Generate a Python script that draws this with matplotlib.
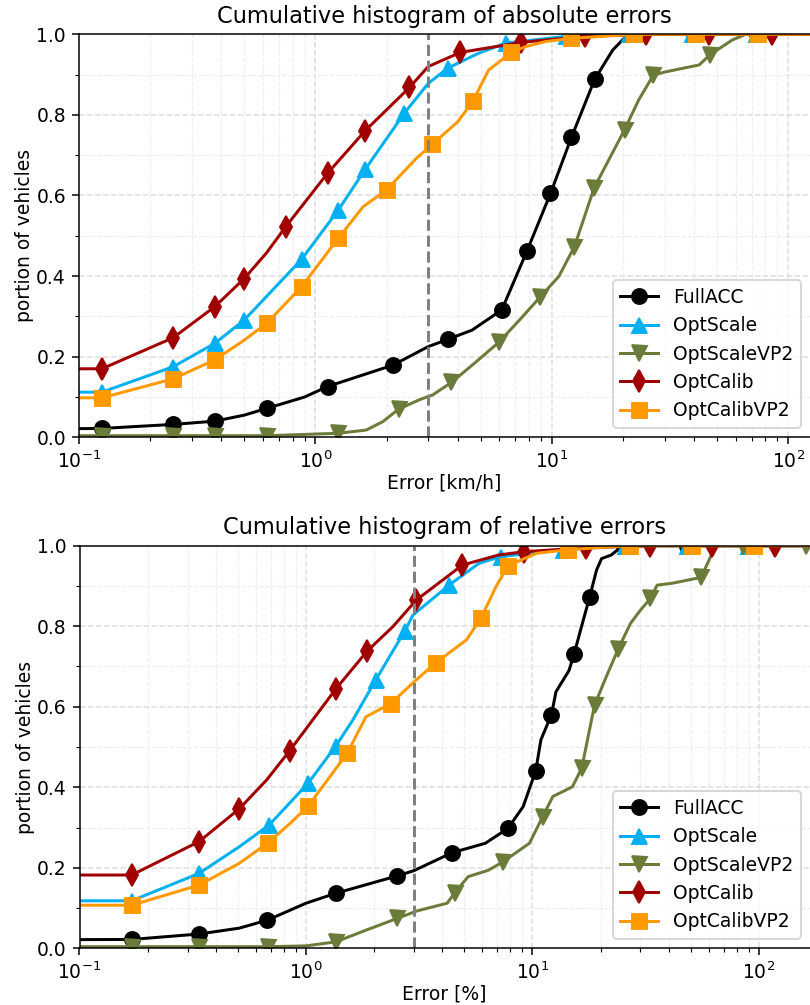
import numpy as np
import matplotlib
matplotlib.use("Agg")
import matplotlib.pyplot as plt
from matplotlib.ticker import MultipleLocator

names = ["FullACC", "OptScale", "OptScaleVP2", "OptCalib", "OptCalibVP2"]
colors = ["black", "#00b0f0", "#6b7b3a", "#a00000", "#ff9900"]
markers = ["o", "^", "v", "d", "s"]

# ---- absolute errors [km/h] ----
abs_full_x = [0.05, 0.125, 0.25, 0.375, 0.5, 0.625, 0.9, 1.125, 2.125, 3.0, 3.63, 4.6, 6.14, 7.86, 9.87, 12.1, 15.2, 18.1, 20.6, 22.3, 40, 74, 300]
abs_full_y = [0.02, 0.022, 0.032, 0.040, 0.055, 0.072, 0.10, 0.126, 0.179, 0.225, 0.243, 0.266, 0.316, 0.463, 0.605, 0.744, 0.889, 0.961, 0.995, 1.0, 1.0, 1.0, 1.0]
abs_full_m = [0.125, 0.25, 0.375, 0.625, 1.125, 2.125, 3.63, 6.14, 7.86, 9.87, 12.1, 15.2, 22.3, 40, 74]

abs_scale_x = [0.05, 0.125, 0.25, 0.375, 0.5, 0.62, 0.875, 1.25, 1.625, 2.375, 3.0, 3.63, 4.9, 6.37, 11.5, 21.3, 39.3, 73, 300]
abs_scale_y = [0.112, 0.112, 0.175, 0.233, 0.291, 0.349, 0.442, 0.564, 0.665, 0.804, 0.878, 0.916, 0.953, 0.978, 0.995, 1.0, 1.0, 1.0, 1.0]
abs_scale_m = [0.125, 0.25, 0.375, 0.5, 0.875, 1.25, 1.625, 2.375, 3.63, 6.37, 11.5, 21.3, 39.3, 73]

abs_svp2_x = [0.05, 0.125, 0.25, 0.375, 0.625, 1.25, 1.64, 1.93, 2.25, 2.75, 3.13, 3.76, 4.8, 5.97, 7.3, 8.95, 10.7, 12.46, 15.1, 17.4, 20.3, 23.3, 26.9, 30.4, 42, 46.6, 58, 66, 74.1, 300]
abs_svp2_y = [0.004, 0.004, 0.004, 0.004, 0.004, 0.01, 0.018, 0.039, 0.070, 0.093, 0.105, 0.136, 0.188, 0.236, 0.291, 0.349, 0.399, 0.473, 0.619, 0.688, 0.763, 0.837, 0.899, 0.907, 0.924, 0.949, 0.986, 1.0, 1.0, 1.0]
abs_svp2_m = [0.125, 0.25, 0.375, 0.625, 1.25, 2.25, 3.76, 5.97, 8.95, 12.46, 15.1, 20.3, 26.9, 46.6, 74.1]

abs_calib_x = [0.05, 0.125, 0.25, 0.375, 0.5, 0.62, 0.75, 1.125, 1.625, 2.5, 3.0, 4.1, 7.44, 13.8, 25, 46, 85, 300]
abs_calib_y = [0.17, 0.17, 0.247, 0.324, 0.394, 0.457, 0.523, 0.655, 0.761, 0.868, 0.92, 0.955, 0.98, 0.995, 1.0, 1.0, 1.0, 1.0]
abs_calib_m = [0.125, 0.25, 0.375, 0.5, 0.75, 1.125, 1.625, 2.5, 4.1, 7.44, 13.8, 25, 46, 85]

abs_cvp2_x = [0.05, 0.125, 0.25, 0.375, 0.5, 0.625, 0.875, 1.25, 1.59, 2.0, 2.67, 3.12, 4.0, 4.63, 5.4, 6.73, 7.8, 9.4, 12.1, 22.3, 40.7, 74.8, 300]
abs_cvp2_y = [0.098, 0.098, 0.145, 0.192, 0.241, 0.284, 0.374, 0.494, 0.572, 0.614, 0.692, 0.727, 0.783, 0.834, 0.911, 0.955, 0.97, 0.982, 0.99, 1.0, 1.0, 1.0, 1.0]
abs_cvp2_m = [0.125, 0.25, 0.375, 0.625, 0.875, 1.25, 2.0, 3.12, 4.63, 6.73, 12.1, 22.3, 40.7, 74.8]

# ---- relative errors [%] ----
rel_full_x = [0.05, 0.17, 0.337, 0.507, 0.676, 1.0, 1.36, 2.535, 3.0, 4.42, 6.2, 7.8, 9.1, 10.34, 10.9, 12.13, 12.7, 14.5, 15.26, 16.3, 17.9, 19.2, 20.2, 22.3, 24.3, 25.3, 48, 90, 300]
rel_full_y = [0.021, 0.022, 0.0355, 0.05, 0.070, 0.112, 0.137, 0.180, 0.193, 0.2375, 0.261, 0.298, 0.352, 0.441, 0.518, 0.58, 0.637, 0.69, 0.730, 0.79, 0.873, 0.94, 0.968, 0.977, 0.994, 1.0, 1.0, 1.0, 1.0]
rel_full_m = [0.17, 0.337, 0.676, 1.36, 2.535, 4.42, 7.8, 10.34, 12.13, 15.26, 17.9, 25.3, 48, 90]

rel_scale_x = [0.05, 0.17, 0.337, 0.507, 0.687, 1.022, 1.354, 1.61, 2.03, 2.73, 2.97, 4.28, 5.8, 7.25, 13.6, 25.6, 47.9, 89.5, 300]
rel_scale_y = [0.118, 0.118, 0.186, 0.252, 0.306, 0.41, 0.5025, 0.567, 0.666, 0.788, 0.828, 0.902, 0.956, 0.973, 0.99, 1.0, 1.0, 1.0, 1.0]
rel_scale_m = [0.17, 0.337, 0.687, 1.022, 1.354, 2.03, 2.73, 4.28, 7.25, 13.6, 25.6, 47.9, 89.5]

rel_svp2_x = [0.05, 0.17, 0.337, 0.68, 1.0, 1.354, 1.84, 2.535, 3.1, 4.2, 4.54, 5.2, 6.4, 7.42, 9.7, 11.1, 12.3, 15.0, 16.5, 18.8, 21.2, 23.9, 27.1, 30, 33.2, 35.5, 41.7, 53, 55.7, 61.7, 64, 85.1, 162, 300]
rel_svp2_y = [0.004, 0.004, 0.004, 0.004, 0.006, 0.016, 0.045, 0.0745, 0.093, 0.112, 0.138, 0.178, 0.194, 0.215, 0.261, 0.327, 0.377, 0.401, 0.447, 0.604, 0.675, 0.743, 0.807, 0.84, 0.869, 0.902, 0.907, 0.919, 0.923, 0.977, 1.0, 1.0, 1.0, 1.0]
rel_svp2_m = [0.17, 0.337, 0.68, 1.354, 2.535, 4.54, 7.42, 11.1, 16.5, 18.8, 23.9, 33.2, 55.7, 85.1, 162]

rel_calib_x = [0.05, 0.17, 0.337, 0.5065, 0.67, 0.848, 1.354, 1.861, 2.42, 3.07, 4.91, 7.1, 9.15, 17.3, 33, 62, 117.5, 300]
rel_calib_y = [0.182, 0.182, 0.265, 0.346, 0.418, 0.491, 0.644, 0.738, 0.799, 0.865, 0.952, 0.977, 0.985, 0.995, 1.0, 1.0, 1.0, 1.0]
rel_calib_m = [0.17, 0.337, 0.5065, 0.848, 1.354, 1.861, 3.07, 4.91, 9.15, 17.3, 33, 62, 117.5]

rel_cvp2_x = [0.05, 0.17, 0.337, 0.507, 0.68, 0.85, 1.022, 1.519, 1.84, 2.37, 3.0, 3.74, 5.11, 5.93, 6.9, 7.8, 10.4, 14.3, 26.9, 50.8, 95.6, 300]
rel_cvp2_y = [0.107, 0.107, 0.157, 0.211, 0.262, 0.31, 0.353, 0.484, 0.575, 0.608, 0.662, 0.709, 0.766, 0.82, 0.898, 0.95, 0.981, 0.99, 1.0, 1.0, 1.0, 1.0]
rel_cvp2_m = [0.17, 0.337, 0.68, 1.022, 1.519, 2.37, 3.74, 5.93, 7.8, 14.3, 26.9, 50.8, 95.6]

abs_series = [(abs_full_x, abs_full_y, abs_full_m),
              (abs_scale_x, abs_scale_y, abs_scale_m),
              (abs_svp2_x, abs_svp2_y, abs_svp2_m),
              (abs_calib_x, abs_calib_y, abs_calib_m),
              (abs_cvp2_x, abs_cvp2_y, abs_cvp2_m)]
rel_series = [(rel_full_x, rel_full_y, rel_full_m),
              (rel_scale_x, rel_scale_y, rel_scale_m),
              (rel_svp2_x, rel_svp2_y, rel_svp2_m),
              (rel_calib_x, rel_calib_y, rel_calib_m),
              (rel_cvp2_x, rel_cvp2_y, rel_cvp2_m)]


def draw_panel(ax, series, title, xlabel, xmax):
    for (x, y, m), name, c, mk in zip(series, names, colors, markers):
        x = np.array(x)
        ax.plot(x, y, color=c, marker=mk, markevery=list(np.isin(x, m)),
                markersize=8, lw=1.6, label=name)
    ax.axvline(3, color="grey", ls="--", lw=1.6)
    ax.set_xscale("log")
    ax.set_xlim(0.1, xmax)
    ax.set_ylim(0, 1)
    ax.yaxis.set_major_locator(MultipleLocator(0.2))
    ax.yaxis.set_minor_locator(MultipleLocator(0.1))
    ax.grid(True, which="major", ls="--", color="#dddddd", lw=0.8)
    ax.grid(True, which="minor", ls="--", color="#eeeeee", lw=0.6)
    ax.set_axisbelow(True)
    ax.spines["right"].set_visible(False)
    ax.set_title(title)
    ax.set_xlabel(xlabel, labelpad=1)
    ax.set_ylabel("portion of vehicles", labelpad=1)
    ax.legend(loc="lower right")


fig = plt.figure(figsize=(6, 1005 / 135), dpi=135)
ax1 = fig.add_axes([79 / 810, 1 - 437.3 / 1005, 1 - 79 / 810, 403 / 1005])
ax2 = fig.add_axes([79.5 / 810, 1 - 948.3 / 1005, 1 - 79.5 / 810, 402.6 / 1005])

draw_panel(ax1, abs_series, "Cumulative histogram of absolute errors", "Error [km/h]", 123.6)
draw_panel(ax2, rel_series, "Cumulative histogram of relative errors", "Error [%]", 168.1)

fig.savefig("out.png", dpi=135)
